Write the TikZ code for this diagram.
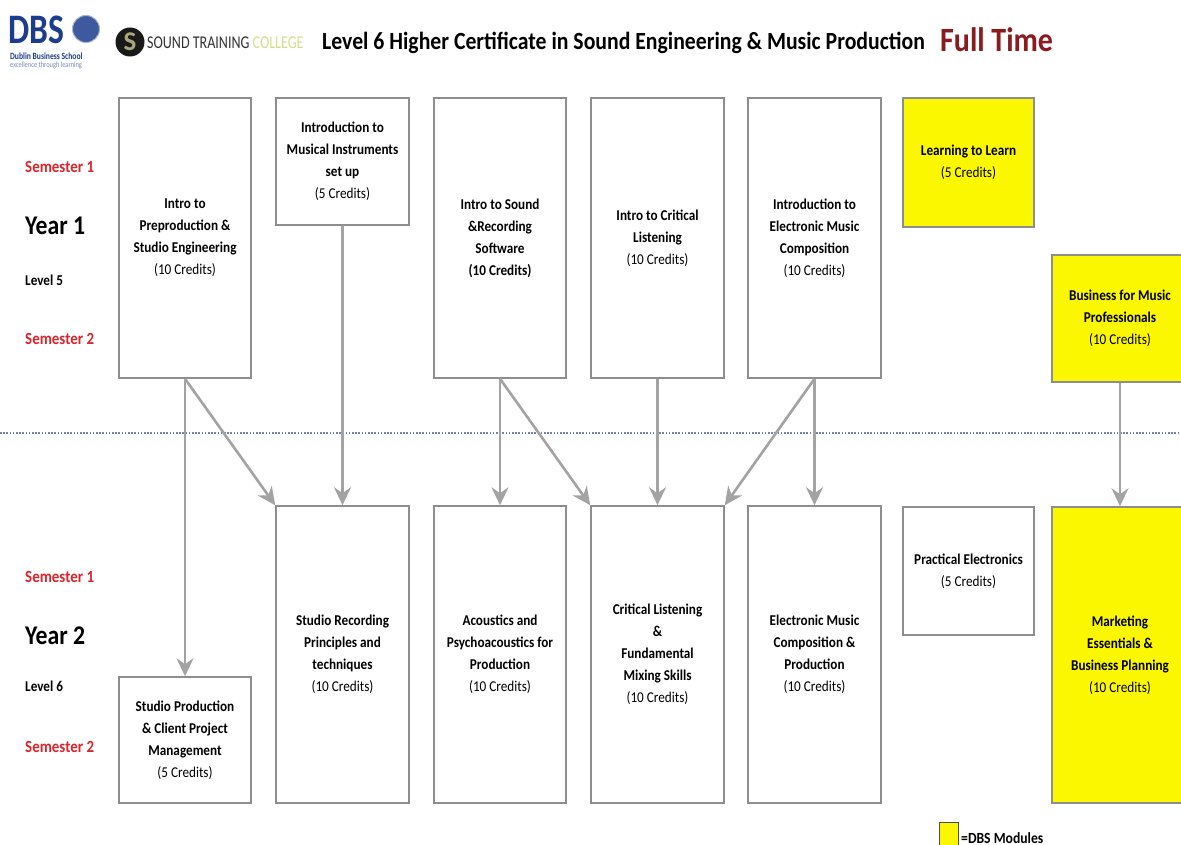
\documentclass[tikz,border=0pt]{standalone}
\usepackage{fontspec}
\setmainfont{Carlito}
\newfontfamily\boxfont[FakeStretch=0.88]{Carlito}
\newfontfamily\logofont[FakeStretch=0.8]{Carlito}
\newfontfamily\stcfont[FakeStretch=0.78]{Carlito}
\usetikzlibrary{arrows.meta,positioning}
\definecolor{dbsyellow}{HTML}{FBF700}
\definecolor{boxgray}{HTML}{8E8E8E}
\definecolor{arrowgray}{HTML}{A3A3A3}
\definecolor{semred}{HTML}{D9252B}
\definecolor{fulltime}{HTML}{8A1B1E}
\definecolor{dbsblue}{HTML}{1D3C8E}
\definecolor{stcgreen}{HTML}{D6DE8C}
\definecolor{stckhaki}{HTML}{A9A77A}
\definecolor{lineblue}{HTML}{7284A0}
\newcommand\cred[1]{{\mdseries(#1 Credits)}}
\tikzset
{
    module/.style    = {rectangle, draw=boxgray, line width=1.5pt, align=center, inner sep=0pt, font=\boxfont\bfseries\fontsize{15}{22}\selectfont},
    dbsmodule/.style = {module, fill=dbsyellow},
    flow/.style      = {line width=2.6pt, draw=arrowgray, -{Stealth[length=18pt, width=17pt, inset=6pt]}},
    semester/.style  = {anchor=west, inner sep=0pt, text=semred, font=\boxfont\bfseries\fontsize{17}{20}\selectfont},
    yearlbl/.style   = {anchor=west, inner sep=0pt, font=\boxfont\bfseries\fontsize{27}{30}\selectfont},
    levellbl/.style  = {anchor=west, inner sep=0pt, font=\boxfont\bfseries\fontsize{15}{18}\selectfont}
}
\begin{document}
\begin{tikzpicture}[x=1pt, y=-1pt]

   \useasboundingbox (0, 0) rectangle (1181, 845);
   \clip (0, 0) rectangle (1181, 845);
   \fill[white] (0, 0) rectangle (1181, 845);

   % header
   \node (dbs)   [anchor=west, inner sep=0pt, text=dbsblue, font=\logofont\bfseries\fontsize{42}{42}\selectfont] at (8, 30) {DBS};
   \node (globe) [circle, fill=dbsblue!85, draw=dbsblue!40, line width=1pt, minimum size=27pt, inner sep=0pt] at (86, 29) {};
   \node (dbs1)  [anchor=west, inner sep=0pt, text=dbsblue, font=\logofont\bfseries\fontsize{9.5}{10}\selectfont] at (10, 56) {Dublin Business School};
   \node (dbs2)  [anchor=west, inner sep=0pt, text=dbsblue!60, font=\logofont\fontsize{8}{8}\selectfont] at (10, 65) {excellence through learning};
   \node (stc)   [circle, fill=black!90, minimum size=29pt, inner sep=0pt, text=stckhaki, font=\bfseries\fontsize{27}{27}\selectfont] at (130, 42) {S};
   \node (stct)  [anchor=west, inner sep=0pt, text=black!80, font=\stcfont\fontsize{18}{18}\selectfont] at (147, 43) {SOUND TRAINING \textcolor{stcgreen}{COLLEGE}};
   \node (title) [anchor=west, inner sep=0pt, font=\boxfont\bfseries\fontsize{24.7}{27}\selectfont] at (322, 43) {Level 6 Higher Certificate in Sound Engineering \& Music Production};
   \node (ft)    [anchor=west, inner sep=0pt, text=fulltime, font=\boxfont\bfseries\fontsize{34}{36}\selectfont] at (940, 40) {Full Time};

   % year labels
   \node (s11) [semester] at (25, 167) {Semester 1};
   \node (y1)  [yearlbl]  at (25, 226) {Year 1};
   \node (l5)  [levellbl] at (25, 280) {Level 5};
   \node (s12) [semester] at (25, 339) {Semester 2};
   \node (s21) [semester] at (25, 577) {Semester 1};
   \node (y2)  [yearlbl]  at (25, 636) {Year 2};
   \node (l6)  [levellbl] at (25, 686) {Level 6};
   \node (s22) [semester] at (25, 747) {Semester 2};

   \draw[lineblue, line width=1.8pt, dash pattern=on 1.6pt off 1.6pt] (0, 433) -- (1181, 433);

   % year 1
   \node (pre)   [module, minimum width=132pt, minimum height=280pt] at (185, 238)   {Intro to\\Preproduction \&\\Studio Engineering\\\cred{10}};
   \node (instr) [module, minimum width=133pt, minimum height=127pt] at (342.5, 161.5) {Introduction to\\Musical Instruments\\set up\\\cred{5}};
   \node (soft)  [module, minimum width=132pt, minimum height=280pt] at (500, 238)   {Intro to Sound\\\&Recording\\Software\\(10 Credits)};
   \node (crit)  [module, minimum width=133pt, minimum height=280pt] at (657.5, 238) {Intro to Critical\\Listening\\\cred{10}};
   \node (elec)  [module, minimum width=133pt, minimum height=280pt] at (814.5, 238) {Introduction to\\Electronic Music\\Composition\\\cred{10}};
   \node (learn) [dbsmodule, minimum width=131pt, minimum height=129pt] at (968.5, 162.5) {Learning to Learn\\\cred{5}};
   \node (biz)   [dbsmodule, minimum width=136pt, minimum height=127pt] at (1120, 318.5) {Business for Music\\Professionals\\\cred{10}};

   % year 2
   \node (proj)  [module, minimum width=132pt, minimum height=126pt] at (185, 740)   {Studio Production\\\& Client Project\\Management\\\cred{5}};
   \node (rec)   [module, minimum width=133pt, minimum height=297pt] at (342.5, 654.5) {Studio Recording\\Principles and\\techniques\\\cred{10}};
   \node (acou)  [module, minimum width=132pt, minimum height=297pt] at (500, 654.5) {Acoustics and\\Psychoacoustics for\\Production\\\cred{10}};
   \node (mix)   [module, minimum width=133pt, minimum height=297pt] at (657.5, 654.5) {Critical Listening\\\&\\Fundamental\\Mixing Skills\\\cred{10}};
   \node (emc)   [module, minimum width=133pt, minimum height=297pt] at (814.5, 654.5) {Electronic Music\\Composition \&\\Production\\\cred{10}};
   \node (pelec) [module, minimum width=131pt, minimum height=128pt] at (968.5, 571) {Practical Electronics\\\cred{5}};
   \node (mkt)   [dbsmodule, minimum width=136pt, minimum height=296pt] at (1120, 655) {Marketing\\Essentials \&\\Business Planning\\\cred{10}};

   % legend
   \node (key)  [rectangle, fill=dbsyellow, draw=black!70, line width=1pt, minimum width=19pt, minimum height=24pt, inner sep=0pt] at (948.5, 834) {};
   \node (keyt) [anchor=west, inner sep=0pt, font=\boxfont\bfseries\fontsize{15.5}{16}\selectfont] at (961, 838) {=DBS Modules};

   \path
      (pre.south)   edge[flow] (proj.north)
      (pre.south)   edge[flow] (rec.north west)
      (instr.south) edge[flow] (rec.north)
      (soft.south)  edge[flow] (acou.north)
      (soft.south)  edge[flow] (mix.north west)
      (crit.south)  edge[flow] (mix.north)
      (elec.south)  edge[flow] (mix.north east)
      (elec.south)  edge[flow] (emc.north)
      (biz.south)   edge[flow] (mkt.north);
\end{tikzpicture}
\end{document}
